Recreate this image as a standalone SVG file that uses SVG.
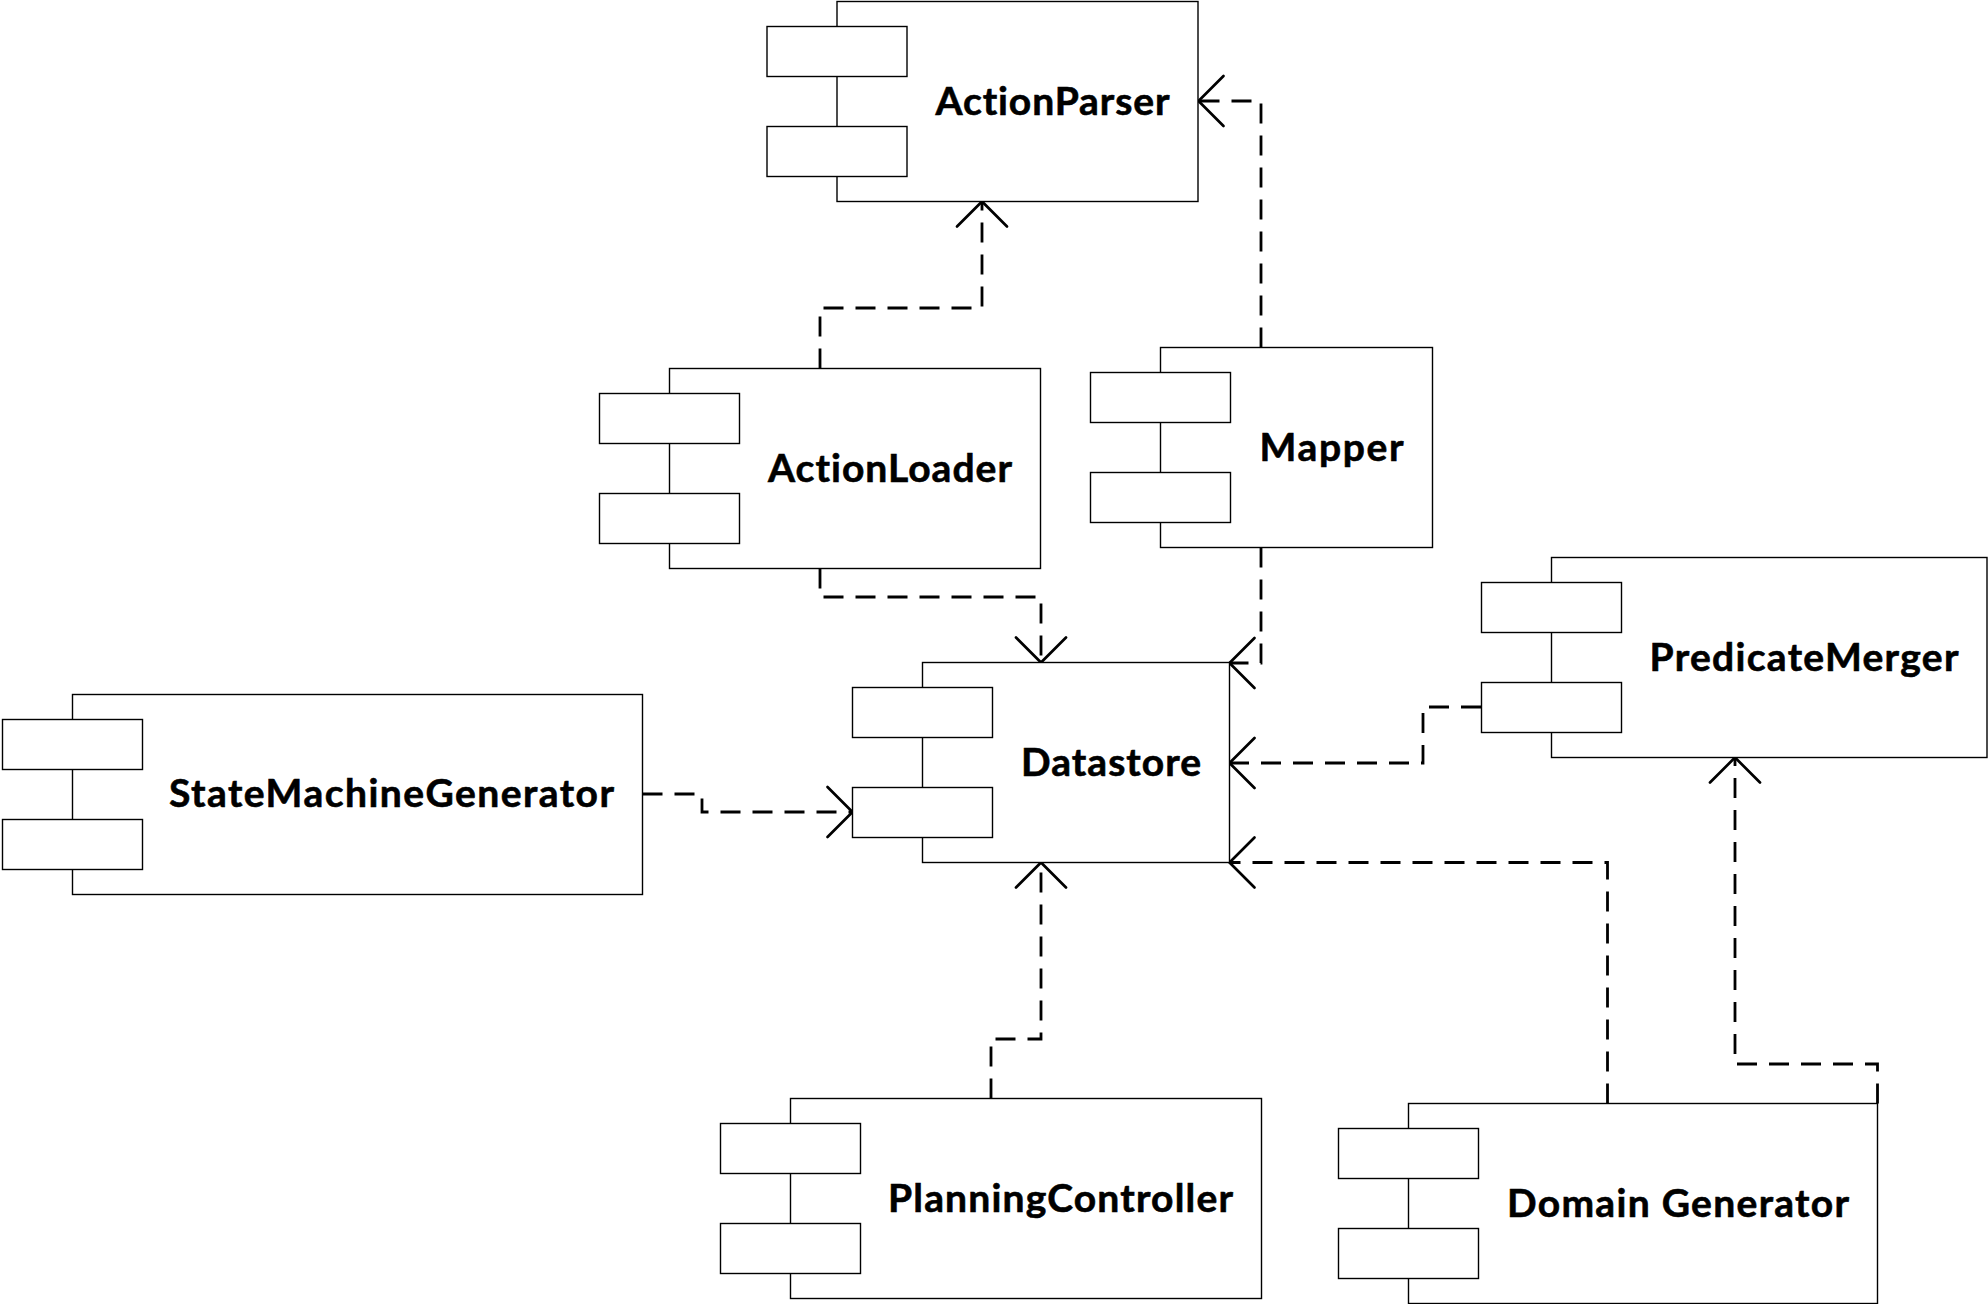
<svg xmlns="http://www.w3.org/2000/svg" width="1988" height="1304" viewBox="0 0 1988 1304">
<style>
.main{fill:#fff;stroke:#000;stroke-width:1.4}
.port{fill:#fff;stroke:#000;stroke-width:1.4}
.lbl{font-family:Lato,"Open Sans","Liberation Sans",sans-serif;font-weight:700;font-size:39px;fill:#000;stroke:#000;stroke-width:0.6;text-anchor:middle;font-variant-ligatures:none;font-feature-settings:"liga" 0,"clig" 0}
.dep{fill:none;stroke:#000;stroke-width:2.8;stroke-dasharray:20 12;marker-end:url(#open)}
</style>
<defs>
<marker id="open" markerUnits="userSpaceOnUse" markerWidth="60" markerHeight="60" viewBox="-30 -30 60 60" refX="0" refY="0" orient="auto" overflow="visible">
<path d="M-25,-25 L0,0 L-25,25" fill="none" stroke="#000" stroke-width="2.7" stroke-linecap="round" stroke-linejoin="miter"/>
</marker>
</defs>
<rect width="1988" height="1304" fill="#fff"/>
<g id="connectors">
<path class="dep" d="M820,368.5 V308 H982 V201.5"/>
<path class="dep" d="M1261,347.5 V101 H1198.5"/>
<path class="dep" d="M820,568.5 V597 H1041 V662.5"/>
<path class="dep" d="M1261,547.5 V663 H1229.5"/>
<path class="dep" d="M1481,707 H1423 V763 H1229.5"/>
<path class="dep" d="M642.5,794 H702 V812 H852.5"/>
<path class="dep" d="M991,1098.5 V1039 H1041 V862.5"/>
<path class="dep" d="M1607.5,1103.5 V862.5 H1229.5"/>
<path class="dep" d="M1877.5,1103.5 V1064 H1735 V757.5"/>
</g>
<g id="ActionParser">
<rect class="main" x="837" y="1.5" width="361" height="200"/>
<rect class="port" x="767" y="26.5" width="140" height="50"/>
<rect class="port" x="767" y="126.5" width="140" height="50"/>
<text class="lbl" x="1052.5" y="114.5" textLength="234">ActionParser</text>
</g>
<g id="ActionLoader">
<rect class="main" x="669.5" y="368.5" width="371" height="200"/>
<rect class="port" x="599.5" y="393.5" width="140" height="50"/>
<rect class="port" x="599.5" y="493.5" width="140" height="50"/>
<text class="lbl" x="890" y="481.5" textLength="244">ActionLoader</text>
</g>
<g id="Mapper">
<rect class="main" x="1160.5" y="347.5" width="272" height="200"/>
<rect class="port" x="1090.5" y="372.5" width="140" height="50"/>
<rect class="port" x="1090.5" y="472.5" width="140" height="50"/>
<text class="lbl" x="1331.5" y="460.5" textLength="144">Mapper</text>
</g>
<g id="PredicateMerger">
<rect class="main" x="1551.5" y="557.5" width="435.5" height="200"/>
<rect class="port" x="1481.5" y="582.5" width="140" height="50"/>
<rect class="port" x="1481.5" y="682.5" width="140" height="50"/>
<text class="lbl" x="1804" y="670.5" textLength="309">PredicateMerger</text>
</g>
<g id="Datastore">
<rect class="main" x="922.5" y="662.5" width="307" height="200"/>
<rect class="port" x="852.5" y="687.5" width="140" height="50"/>
<rect class="port" x="852.5" y="787.5" width="140" height="50"/>
<text class="lbl" x="1111" y="775.5" textLength="180">Datastore</text>
</g>
<g id="StateMachineGenerator">
<rect class="main" x="72.5" y="694.5" width="570" height="200"/>
<rect class="port" x="2.5" y="719.5" width="140" height="50"/>
<rect class="port" x="2.5" y="819.5" width="140" height="50"/>
<text class="lbl" x="391.5" y="806.5" textLength="445">StateMachineGenerator</text>
</g>
<g id="PlanningController">
<rect class="main" x="790.5" y="1098.5" width="471" height="200"/>
<rect class="port" x="720.5" y="1123.5" width="140" height="50"/>
<rect class="port" x="720.5" y="1223.5" width="140" height="50"/>
<text class="lbl" x="1060.5" y="1211.5" textLength="345">PlanningController</text>
</g>
<g id="DomainGenerator">
<rect class="main" x="1408.5" y="1103.5" width="469" height="200"/>
<rect class="port" x="1338.5" y="1128.5" width="140" height="50"/>
<rect class="port" x="1338.5" y="1228.5" width="140" height="50"/>
<text class="lbl" x="1678" y="1216.5" textLength="342">Domain Generator</text>
</g>
</svg>
